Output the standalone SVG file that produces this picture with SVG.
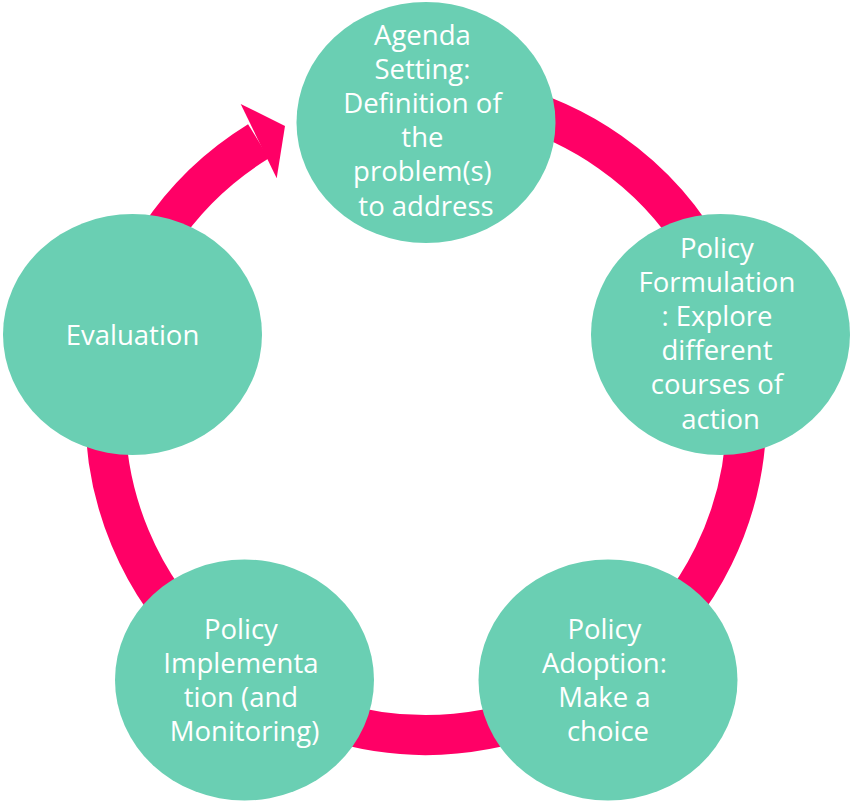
<svg xmlns="http://www.w3.org/2000/svg" width="851" height="801" viewBox="0 0 851 801">
<style>
.ring{fill:none;stroke:#FF0066;stroke-width:40;stroke-linecap:butt}
.head{fill:#FF0066}
.node{fill:#6ACFB3}
.lbl{font-family:"Open Sans",Lato,"Liberation Sans",sans-serif;font-size:27.5px;fill:#FFFFFF;text-anchor:middle;font-variant-ligatures:none;font-feature-settings:"liga" 0,"clig" 0}
</style>
<rect width="851" height="801" fill="#FFFFFF"/>
<g id="connectors">
<path class="ring" d="M 481.65 98.87 A 320.5 320.5 0 1 1 258.5 141.2"/>
<polygon class="head" points="240.7,104 285,126 276.7,178.3"/>
</g>
<g id="node-agenda">
<ellipse class="node" cx="426" cy="122.5" rx="129.5" ry="120.5"/>
<text class="lbl">
<tspan x="426" y="44.5">Agenda</tspan>
<tspan x="426" y="78.7">Setting:</tspan>
<tspan x="426" y="112.9">Definition of</tspan>
<tspan x="426" y="147.1">the</tspan>
<tspan x="426" y="181.3">problem(s)</tspan>
<tspan x="426" y="215.5">to address</tspan>
</text>
</g>
<g id="node-formulation">
<ellipse class="node" cx="720.5" cy="334.5" rx="129.5" ry="120.5"/>
<text class="lbl">
<tspan x="720.5" y="257.5">Policy</tspan>
<tspan x="720.5" y="291.7">Formulation</tspan>
<tspan x="720.5" y="325.9">: Explore</tspan>
<tspan x="720.5" y="360.1">different</tspan>
<tspan x="720.5" y="394.3">courses of</tspan>
<tspan x="720.5" y="428.5">action</tspan>
</text>
</g>
<g id="node-adoption">
<ellipse class="node" cx="608" cy="680" rx="129.5" ry="120.5"/>
<text class="lbl">
<tspan x="608" y="638.5">Policy</tspan>
<tspan x="608" y="672.7">Adoption:</tspan>
<tspan x="608" y="706.9">Make a</tspan>
<tspan x="608" y="741.1">choice</tspan>
</text>
</g>
<g id="node-implementation">
<ellipse class="node" cx="244.5" cy="680" rx="129.5" ry="120.5"/>
<text class="lbl">
<tspan x="244.5" y="638.5">Policy</tspan>
<tspan x="244.5" y="672.7">Implementa</tspan>
<tspan x="244.5" y="706.9">tion (and</tspan>
<tspan x="244.5" y="741.1">Monitoring)</tspan>
</text>
</g>
<g id="node-evaluation">
<ellipse class="node" cx="132.5" cy="334.5" rx="129.5" ry="120.5"/>
<text class="lbl" x="132.5" y="345">Evaluation</text>
</g>
</svg>
